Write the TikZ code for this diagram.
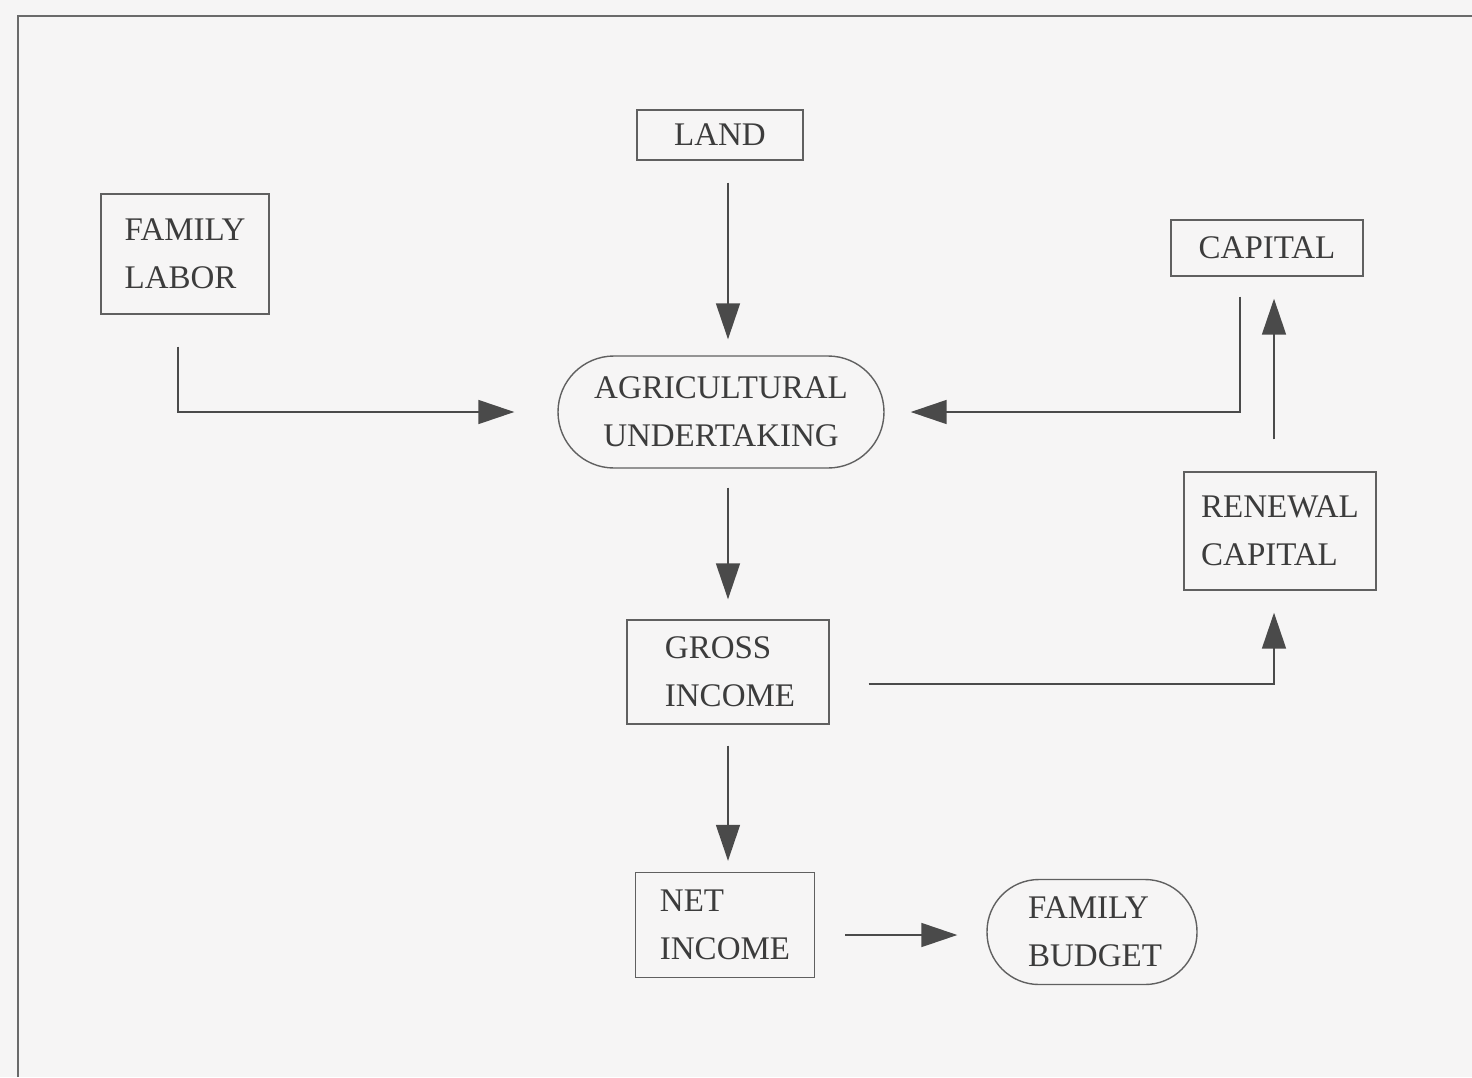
\documentclass[tikz,border=0pt]{standalone}
\usepackage{fontspec}
\setmainfont{Liberation Serif}
\usetikzlibrary{arrows.meta}
\definecolor{bg}{HTML}{F6F5F5}
\definecolor{boxgray}{HTML}{606060}
\definecolor{arrgray}{HTML}{4A4A4A}
\definecolor{txt}{HTML}{3C3C3C}
\definecolor{framegray}{HTML}{6A6A6A}
\begin{document}
\begin{tikzpicture}[x=0.5pt,y=-0.5pt,
  box/.style={draw=boxgray, line width=0.7pt, rectangle, inner sep=0pt,
    font=\fontsize{16.5}{24}\selectfont, text=txt, align=left},
  arr/.style={draw=arrgray, line width=0.8pt, -{Triangle[length=18pt,width=12pt]}}
]
\useasboundingbox (0,0) rectangle (1472,1077);
\fill[bg] (0,0) rectangle (1472,1077);
\draw[framegray, line width=1.2pt] (18,1077) -- (18,16) -- (1472,16);

\node[box, minimum width=83pt, minimum height=25pt] (land) at (720,135) {LAND};
\node[box, minimum width=84pt, minimum height=60pt] (fl) at (185,254) {FAMILY\\LABOR};
\node[box, minimum width=96pt, minimum height=28pt] (cap) at (1267,248) {CAPITAL};
\node[box, minimum width=163pt, minimum height=56pt, rounded corners=28pt, align=center] (agri) at (721,412) {AGRICULTURAL\\UNDERTAKING};
\node[box, minimum width=96pt, minimum height=59pt] (ren) at (1280,531) {RENEWAL\\CAPITAL};
\node[box, minimum width=101pt, minimum height=52pt] (gross) at (728,672) {\hspace*{2pt}GROSS\\\hspace*{2pt}INCOME};
\node[box, minimum width=89.5pt, minimum height=52.5pt] (net) at (725,925) {NET\\INCOME};
\node[box, minimum width=105pt, minimum height=52.5pt, rounded corners=26pt] (budget) at (1092,932) {\hspace*{3pt}FAMILY\\\hspace*{3pt}BUDGET};

\draw[arr, shorten <=11pt, shorten >=8pt] ([xshift=4pt]land.south) -- ([xshift=4pt]land.south |- agri.north);
\draw[arr, shorten <=16pt, shorten >=21.5pt] ([xshift=-3.5pt]fl.south) |- (agri.west);
\draw[arr, shorten <=10pt, shorten >=13pt] ([xshift=-13.5pt]cap.south) |- (agri.east);
\draw[arr, shorten <=16pt, shorten >=11pt] ([xshift=-3pt]ren.north) -- ([xshift=-3pt]ren.north |- cap.south);
\draw[arr, shorten <=9.5pt, shorten >=10pt] (agri.south -| gross.north) -- (gross.north);
\draw[arr, shorten <=19.5pt, shorten >=11pt] ([yshift=-6pt]gross.east) -| ([xshift=-3pt]ren.south);
\draw[arr, shorten <=10.5pt, shorten >=5.5pt] (gross.south) -- (gross.south |- net.north);
\draw[arr, shorten <=15pt, shorten >=14.5pt] ([yshift=-5pt]net.east) -- ([yshift=-5pt]net.east -| budget.west);
\end{tikzpicture}
\end{document}
